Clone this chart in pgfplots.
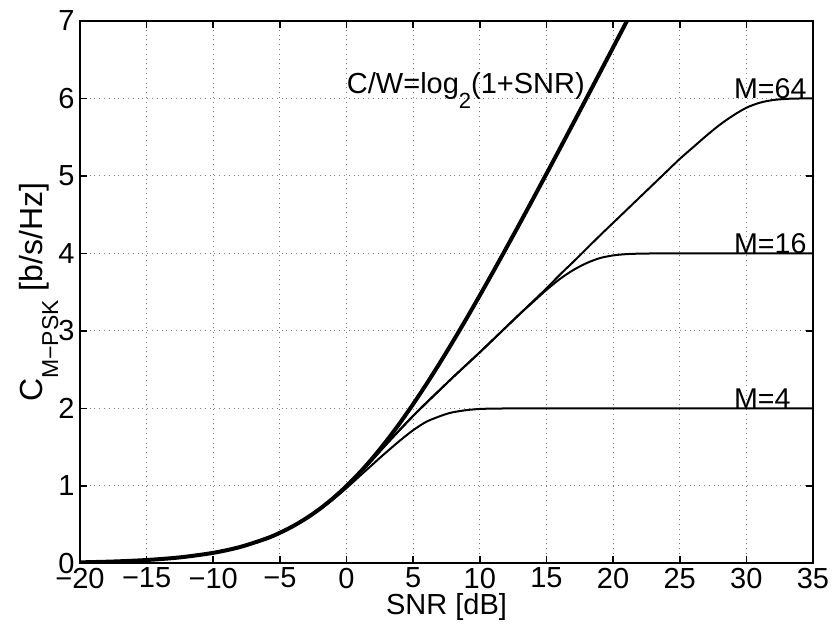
\documentclass[border=0pt]{standalone}
\usepackage{fontspec}
\setmainfont{Liberation Sans}
\usepackage{graphicx}
\usepackage{pgfplots}
\pgfplotsset{compat=1.18}
\begin{document}
\begin{tikzpicture}
\useasboundingbox (-40pt,-33.25pt) rectangle (377pt,281.75pt);
\begin{axis}[
  scale only axis, width=366.5pt, height=271.25pt,
  xmin=-20, xmax=35, ymin=0, ymax=7,
  xtick={-20,-15,...,35}, ytick={0,1,...,7},
  xticklabels={−20,−15,−10,−5,0,5,10,15,20,25,30,35},
  yticklabels={0,1,2,3,4,5,6,7},
  grid=major,
  major grid style={dotted, line width=0.5pt, black!50},
  tick align=inside,
  major tick length=3.5pt,
  every tick/.style={black, line width=0.8pt},
  axis line style={line width=1pt},
  tick label style={font=\fontsize{14.5}{14.5}\selectfont},
  xticklabel style={inner sep=2pt},
  yticklabel style={inner sep=2.5pt},
  xlabel={SNR [dB]},
  ylabel={C\raisebox{-8pt}{\fontsize{11.5}{11.5}\selectfont M−PSK} [b/s/Hz]},
  xlabel style={at={(axis description cs:0.5,-0.0949)}, anchor=base, font=\fontsize{14.5}{14.5}\selectfont},
  ylabel style={at={(axis description cs:-0.0518,0.5)}, anchor=base, font=\fontsize{16}{16}\selectfont},
]
% Shannon
\addplot[black, line width=2pt, smooth, no marks] coordinates {(-20,0.0144) (-17.5,0.0254) (-15,0.0449) (-12.5,0.0789) (-10,0.1375) (-8,0.2122) (-6,0.3233) (-5,0.3962) (-4,0.4835) (-3,0.5861) (-2,0.7057) (-1,0.8434) (0,1.0) (1,1.1756) (2,1.3701) (3,1.5827) (4,1.8122) (5,2.0574) (6,2.3164) (7,2.5878) (8,2.8698) (9,3.1608) (10,3.4594) (11,3.7644) (12,4.0746) (13,4.3890) (14,4.7070) (15,5.0278) (16,5.3509) (17,5.6758) (18,6.0021) (19,6.3297) (20,6.6582) (21,6.9874) (22,7.3173)};
% M=4
\addplot[black, line width=1pt, smooth, no marks] coordinates {(-20,0.0144) (-17.5,0.0254) (-15,0.0449) (-12.5,0.0788) (-10,0.1374) (-8,0.2120) (-6,0.3225) (-5,0.395) (-4,0.482) (-3,0.583) (-2,0.699) (-1,0.830) (0,0.974) (1,1.13) (2,1.285) (2.5,1.363) (3,1.438) (4,1.585) (5,1.72) (6,1.83) (7,1.90) (7.5,1.93) (8,1.952) (9,1.979) (10,1.994) (11,1.9985) (12,2.0) (20,2.0) (35,2.0)};
% M=16
\addplot[black, line width=1pt, smooth, no marks] coordinates {(-20,0.0144) (-17.5,0.0254) (-15,0.0449) (-12.5,0.0789) (-10,0.1375) (-8,0.2122) (-6,0.3232) (-5,0.3960) (-4,0.4832) (-3,0.5855) (-2,0.7045) (-1,0.840) (0,0.99) (1,1.165) (2,1.35) (3,1.54) (4,1.725) (5,1.905) (6,2.075) (7,2.24) (8,2.405) (9,2.565) (10,2.725) (11,2.89) (12,3.055) (13,3.22) (14,3.375) (15,3.53) (16,3.67) (17,3.785) (18,3.875) (19,3.94) (20,3.975) (21,3.992) (22,3.998) (23,4.0) (30,4.0) (35,4.0)};
% M=64
\addplot[black, line width=1pt, smooth, no marks] coordinates {(-20,0.0144) (-17.5,0.0254) (-15,0.0449) (-12.5,0.0789) (-10,0.1375) (-8,0.2122) (-6,0.3232) (-5,0.3960) (-4,0.4832) (-3,0.5855) (-2,0.7045) (-1,0.840) (0,0.99) (1,1.165) (2,1.35) (3,1.54) (4,1.725) (5,1.905) (6,2.075) (7,2.24) (8,2.405) (9,2.565) (10,2.725) (11,2.89) (12,3.055) (13,3.22) (14,3.385) (15,3.55) (16,3.725) (17,3.89) (18,4.06) (19,4.23) (20,4.395) (21,4.56) (22,4.725) (23,4.89) (24,5.055) (25,5.22) (26,5.37) (27,5.52) (28,5.66) (29,5.78) (30,5.88) (31,5.945) (32,5.98) (33,5.995) (34,6.0) (35,6.0)};
\node[anchor=base west, inner sep=0pt, font=\fontsize{14.5}{14.5}\selectfont] at (axis cs:0,6.06) {C/W=log\raisebox{-7.5pt}{\fontsize{11}{11}\selectfont 2}(1+SNR)};
\node[anchor=base west, inner sep=0pt, font=\fontsize{14.3}{14.3}\selectfont] at (axis cs:29.05,6) {M=64};
\node[anchor=base west, inner sep=0pt, font=\fontsize{14.3}{14.3}\selectfont] at (axis cs:29.05,4) {M=16};
\node[anchor=base west, inner sep=0pt, font=\fontsize{14.3}{14.3}\selectfont] at (axis cs:29.05,2) {M=4};
\end{axis}
\end{tikzpicture}
\end{document}
